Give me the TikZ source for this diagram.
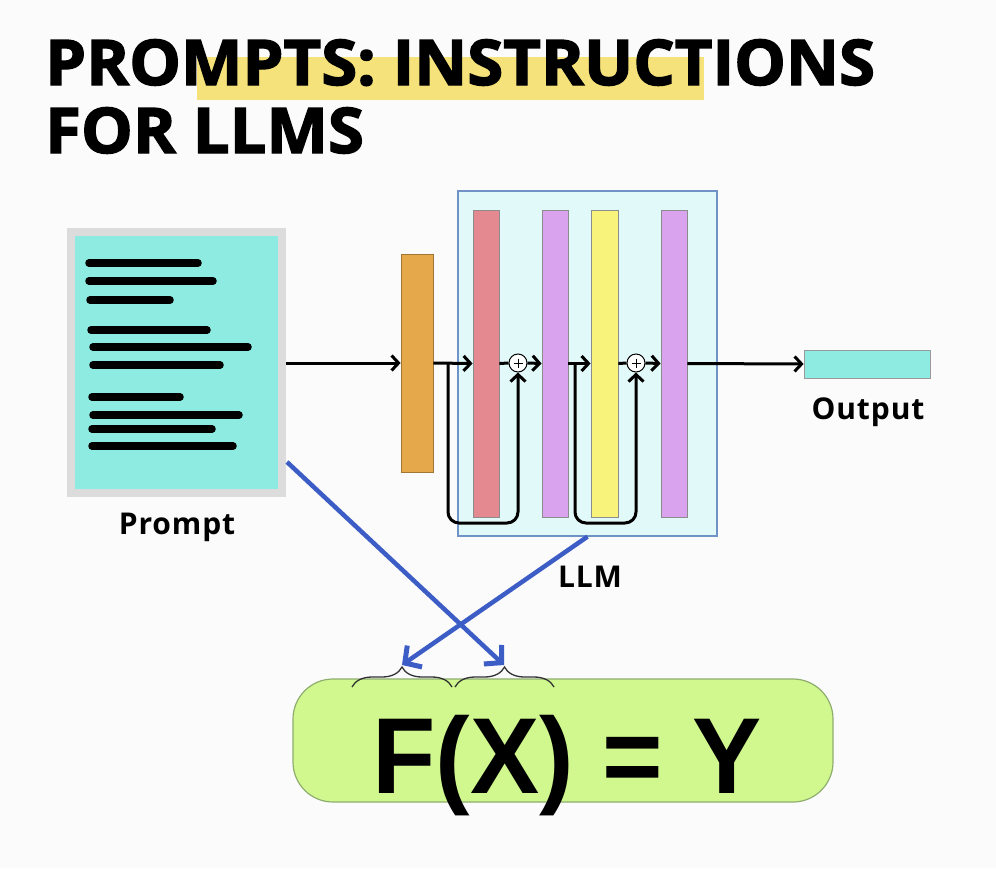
\documentclass[tikz,border=0pt]{standalone}
\usepackage{fontspec}
\setmainfont{Open Sans}
\newfontfamily\arialfont{Liberation Sans}
\newfontfamily\titlefont[BoldFeatures={FakeBold=2.2}]{Open Sans}
\newfontfamily\lblfont[LetterSpace=3]{Open Sans}
\usetikzlibrary{arrows.meta,decorations.pathreplacing,calc}
\definecolor{bgc}{HTML}{FBFBFB}
\definecolor{hilite}{HTML}{F5E27A}
\definecolor{cyanfill}{HTML}{8EEBE1}
\definecolor{paperedge}{HTML}{DCDCDC}
\definecolor{llmfill}{HTML}{E2F9F9}
\definecolor{llmedge}{HTML}{6F93C6}
\definecolor{orangec}{HTML}{E5A84A}
\definecolor{redc}{HTML}{E3898F}
\definecolor{purplec}{HTML}{D9A3EE}
\definecolor{yellowc}{HTML}{F8F37A}
\definecolor{greenc}{HTML}{D0F88E}
\definecolor{greenedge}{HTML}{8FAE6E}
\definecolor{bluec}{HTML}{3C5CC6}
\begin{document}
\begin{tikzpicture}[x=1pt,y=-1pt,
  bar/.style={draw=black!45, line width=0.8, inner sep=0, minimum width=#1},
  flow/.style={line width=3, -{Straight Barb[length=7pt,width=15pt,line width=3pt]}},
  plain/.style={line width=3},
  txtline/.style={line width=7.5, line cap=round},
  lbl/.style={font=\lblfont\bfseries\fontsize{30}{34}\selectfont},
  bluearr/.style={bluec, line width=4.5, -{Straight Barb[length=12pt,width=26pt,line width=5pt]}},
  bracestyle/.style={draw=black!80, line width=1.3, decorate, decoration={brace, amplitude=20pt}},
  addc/.style={circle, draw=black, fill=white, line width=1, minimum size=18, inner sep=0}
]
\useasboundingbox (0,0) rectangle (996,868);
\fill[bgc] (0,0) rectangle (996,868);

% title
\fill[hilite] (197,57) rectangle (704,100);
\node[anchor=base west, inner sep=0, font=\titlefont\bfseries\fontsize{63}{63}\selectfont] (t1) at (45,85) {\scalebox{1.035}[1]{PROMPTS: INSTRUCTIONS}};
\node[anchor=base west, inner sep=0, font=\titlefont\bfseries\fontsize{63}{63}\selectfont] (t2) at (45,153) {\scalebox{1.035}[1]{FOR LLMS}};

% prompt document
\node[fill=cyanfill, draw=paperedge, line width=8, minimum width=211, minimum height=261, inner sep=0] (prompt) at (176.5,362.5) {};
\draw[txtline] (89,263) -- (198,263);
\draw[txtline] (89,281) -- (213,281);
\draw[txtline] (90,300) -- (170,300);
\draw[txtline] (91,330) -- (207,330);
\draw[txtline] (93,347) -- (248,347);
\draw[txtline] (93,365) -- (220,365);
\draw[txtline] (92,397) -- (180,397);
\draw[txtline] (93,415) -- (239,415);
\draw[txtline] (92,429) -- (212,429);
\draw[txtline] (92,446) -- (233,446);
\node[lbl] (promptlbl) at (177,527) {Prompt};

% LLM block
\node[fill=llmfill, draw=llmedge, line width=1.2, minimum width=259, minimum height=345, inner sep=0] (llm) at (587.5,363.5) {};
\node[lbl] (llmlbl) at (590,577) {LLM};

\node[bar=32, fill=orangec, draw=orangec!70!black, minimum height=218] (orange) at (417,363) {};
\node[bar=26, fill=redc, minimum height=307] (red) at (486,363.5) {};
\node[bar=26, fill=purplec, minimum height=307] (pa) at (555,363.5) {};
\node[bar=27, fill=yellowc, minimum height=307] (yel) at (604.5,363.5) {};
\node[bar=26, fill=purplec, minimum height=307] (pb) at (674,363.5) {};
\node[addc] (c1) at (518,363) {};
\node[addc] (c2) at (636,363) {};
\foreach \c in {c1,c2} {
  \draw[line width=0.9] ($(\c)+(-4.5,0)$) -- ($(\c)+(4.5,0)$);
  \draw[line width=0.9] ($(\c)+(0,-4.5)$) -- ($(\c)+(0,4.5)$);
}

\node[fill=cyanfill, draw=black!40, line width=0.8, minimum width=126, minimum height=28, inner sep=0] (out) at (867,364) {};
\node[lbl] (outlbl) at (868,412) {Output};

% main flow
\draw[flow] (prompt.east |- orange.west) -- (orange.west);
\draw[flow] (orange.east) -- (red.west);
\draw[plain] (red.east) -- (c1.west);
\draw[flow] (c1.east) -- (pa.west);
\draw[flow] (pa.east) -- (yel.west);
\draw[plain] (yel.east) -- (c2.west);
\draw[flow] (c2.east) -- (pb.west);
\draw[flow] (pb.east) -- (out.west);

% skip connections
\coordinate (s1) at (448,363);
\coordinate (s2) at (575,363);
\draw[flow, rounded corners=11] (s1) -- (448,523) -| (c1.south);
\draw[flow, rounded corners=11] (s2) -- (575,523) -| (c2.south);

% equation
\node[fill=greenc, draw=greenedge, line width=1.2, rounded corners=40, minimum width=540, minimum height=123, inner sep=0] (eq) at (563,740.5) {};
\node[anchor=base, inner sep=0, font=\arialfont\bfseries\fontsize{108}{108}\selectfont] (eqtxt) at (567,793) {\scalebox{0.96}[1]{F(X) = Y}};

% braces
\coordinate (bfa) at (352,687);
\coordinate (bfb) at (452,687);
\coordinate (bxa) at (455,687);
\coordinate (bxb) at (554,687);
\draw[bracestyle] (bfa) -- (bfb);
\draw[bracestyle] (bxa) -- (bxb);
\coordinate (ftip) at (402,665);
\coordinate (xtip) at (504,665);

% blue arrows
\coordinate (pstart) at (287,462);
\draw[bluearr] (pstart) -- (xtip);
\draw[bluearr] (llm.south) -- (ftip);
\end{tikzpicture}
\end{document}
